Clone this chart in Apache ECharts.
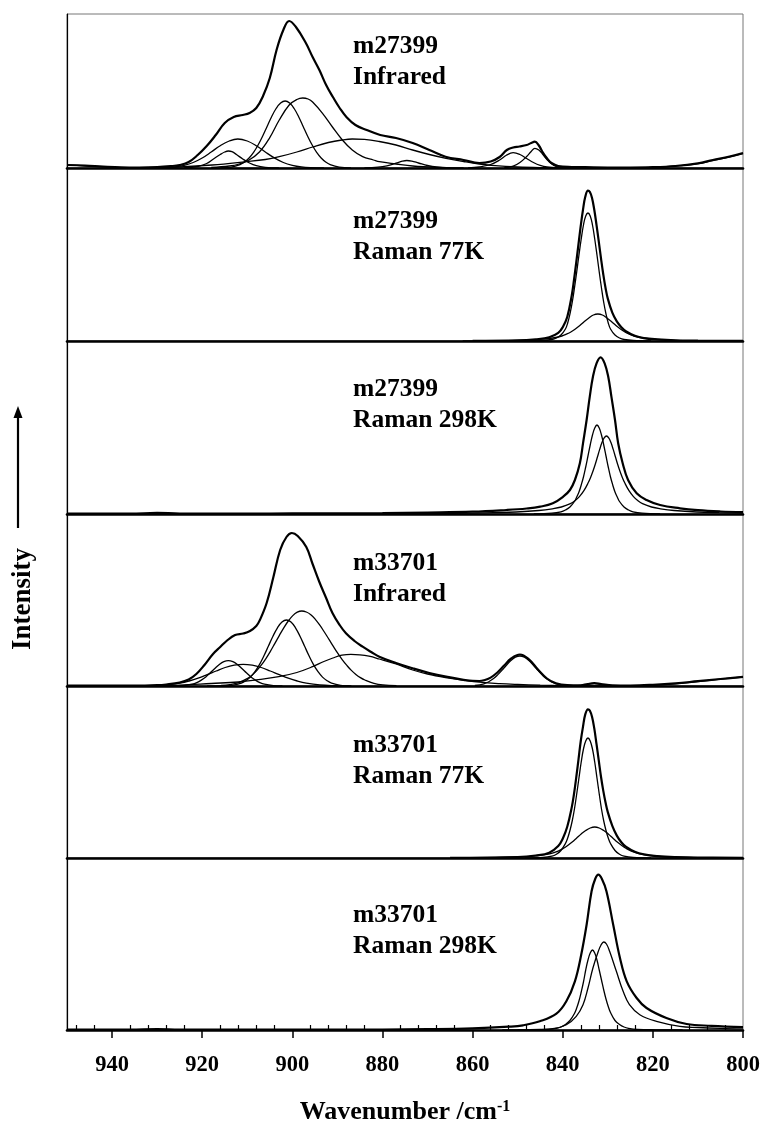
<!DOCTYPE html>
<html>
<head>
<meta charset="utf-8">
<script src="https://cdn.jsdelivr.net/npm/echarts@6/dist/echarts.min.js"></script>
<style>
  html, body { margin: 0; padding: 0; background: #fff; }
  #chart { width: 766px; height: 1128px; }
</style>
</head>
<body>
<div id="chart"></div>
<script>
// values: [wavenumber, intensity] (intensity in px above each panel baseline)

// m27399 Infrared
const ir1Env = [[950,3],[946,2.4],[942,1.4],[938,0.6],[934,0.4],[930,0.8],[927,1.8],[925,3],[923,6],[921,13],[919,22],[917,33],[915,45],[913,51],[911,53],[909.5,55],[908,60],[906.5,72],[905,90],[903.5,118],[902,138],[900.7,147],[899.2,141],[897,125],[895.5,111],[894,98],[892.5,83],[891,71],[889.5,60],[888,51],[886,43],[883.5,38],[880.5,33],[877,30],[873.3,25],[869.6,18],[866,11.3],[862,8],[858.5,5],[856,6.5],[854,11],[852.4,18],[851,20.5],[849.6,21.5],[848,23],[847,25],[846.2,26.3],[845.3,22.5],[844.4,15.5],[843.5,9.7],[842.5,5],[841,2],[838,1],[835,0.8],[830,0.5],[825,0.5],[820,0.8],[815,2],[810,4.7],[806.7,8],[803,11.5],[800,15]];
const ir1C1 = [[924,0.2],[921,1.5],[919,4.5],[917.5,9],[916,13.5],[915,16],[914.2,17],[913.4,16.3],[912.4,13.5],[911,9],[909.5,5],[908,2.3],[906,0.7],[903,0.1]];
const ir1C2 = [[930,0.2],[928,0.4],[926,1.2],[924,2.7],[922,5.5],[920,10],[918,16],[916,22.3],[914,27],[912.1,29],[910,27],[908,22.3],[906,16],[904,10.1],[902,5.5],[900,2.7],[898,1.1],[896,0.4],[893,0.1]];
const ir1C3 = [[916,0.1],[913.6,0.9],[911.6,3.4],[910.6,6],[909.6,10],[908.6,15.6],[907.6,23],[906.6,31.8],[905.6,41.6],[904.6,51.3],[903.6,59.5],[902.6,65],[901.6,67],[900.6,65],[899.6,59.5],[898.6,51.3],[897.6,41.6],[896.6,31.8],[895.6,23],[894.6,15.6],[893.6,10],[892.6,6],[891.6,3.4],[889.6,0.9],[887,0.1]];
const ir1C4 = [[918,0.5],[914,2],[911.8,4],[909.6,8],[907.3,16],[905.1,29.7],[902.9,48],[900.7,63],[899,68.5],[897.7,70],[896.5,69],[895.5,66],[893.3,54.7],[891.1,41],[888.9,28],[886.7,18],[884.4,11.3],[882,8],[880.7,6.3],[877,4],[873.3,2],[868,0.7],[862,0.2]];
const ir1C5 = [[930,0.5],[925,1],[917.8,3],[910.3,6.3],[906,8.5],[902.9,11.3],[899,16],[895.5,21],[892,25.5],[889,28],[886.7,29],[884,28.6],[880.7,26.5],[877,23],[873.3,18],[869.6,13.5],[865.9,9.7],[862,6.5],[858.5,4],[855,2.3],[850,1],[845,0.4],[838,0.1]];
const ir1C6 = [[884,0.1],[881,0.8],[879,2.2],[877,4.8],[875.6,6.8],[874.6,7.5],[873.5,6.9],[872,5],[870,2.5],[868,1],[865,0.2]];
const ir1C7 = [[861,0.1],[858.5,1],[856,3.5],[854,8],[852.5,12.8],[851,15.3],[849.5,13.5],[848,9.5],[846.5,5.5],[845,2.6],[843.5,1],[841,0.2]];
const ir1C8 = [[853,0.2],[851,1.8],[849.5,5.5],[848,11.5],[847,16.5],[846.2,19.7],[845.3,18],[844.4,13.5],[843.5,8.5],[842.5,4.2],[841.5,1.6],[840,0.4],[837,0]];
const ir1C9 = [[828,0],[822,0.4],[818,1],[814,2.3],[810,4.3],[806.7,7.5],[803,11],[800,14.5]];
const ir1C10 = [[950,2.8],[946,2.2],[942,1.2],[938,0.4],[934,0]];

// m27399 Raman 77K
const ra1Env = [[860,0.2],[850,0.6],[846,1.7],[843,3.7],[841,8.1],[840,13.8],[839,24],[838,45.6],[837.5,61],[837,78.7],[836.5,97],[836,115.3],[835.5,131.4],[835,144.2],[834.4,150.3],[834,149.2],[833.5,143.1],[833,131.2],[832.5,115.9],[832,99.3],[831.5,82.3],[831,66.5],[830.5,53],[830,42.4],[829,28.4],[828,19.6],[827,13.8],[826,9.8],[824,5.2],[822,2.9],[819,1.6],[815,0.7],[810,0.3],[800,0.1]];
const ra1Big = [[848.4,0.1],[844.4,0.5],[842.4,1.5],[841.4,3],[840.4,6],[839.4,12],[838.9,18],[838.4,27],[837.9,38.5],[837.4,53],[836.9,69],[836.4,86],[835.9,102],[835.4,116],[834.9,125],[834.4,128],[833.9,125],[833.4,116],[832.9,102],[832.4,86],[831.9,69],[831.4,53],[830.9,38.5],[830.4,27],[829.9,18],[829.4,12],[828.4,6],[827.4,3],[826.4,1.5],[824.4,0.5],[820.4,0.1]];
const ra1Small = [[862.2,0.1],[854.2,0.3],[849.2,0.7],[845.2,1.6],[842.2,3],[840.2,5],[839.2,6.8],[838.2,9],[837.2,12],[836.2,15.5],[835.2,19.5],[834.2,23],[833.2,26],[832.2,27],[831.2,26],[830.2,23],[829.2,19.5],[828.2,15.5],[827.2,12],[826.2,9],[825.2,6.8],[824.2,5],[822.2,3],[819.2,1.6],[815.2,0.7],[810.2,0.3],[802.2,0.1]];

// m27399 Raman 298K
const rb1Env = [[950,0.3],[936,0.3],[930,1.2],[925,0.4],[910,0.4],[900,0.6],[880,1],[870,1.5],[860,2.3],[852.5,4],[848,5.5],[845,7.3],[842.2,10.7],[839.9,17.3],[838.4,24],[837.3,34],[836.2,50.7],[835.5,70.7],[834.7,94],[834,117.3],[833.3,137.3],[832.5,150.7],[831.6,156.7],[830.7,150.7],[829.9,137.3],[829.2,117.3],[828.4,94],[827.7,70.7],[826.7,50.7],[825.5,34],[823.6,20.7],[821.4,14],[818.4,9],[814,5.7],[810,3.8],[805,2.5],[800,1.8]];
const rb1A = [[846.4,0.2],[842.4,0.8],[840.4,2.2],[839.4,4],[838.4,7],[837.4,12.5],[836.9,17],[836.4,22],[835.9,29],[835.4,37],[834.9,47],[834.4,58],[833.9,69],[833.4,79],[832.9,86],[832.4,89],[831.9,86],[831.4,79],[830.9,69],[830.4,58],[829.9,47],[829.4,37],[828.9,29],[828.4,22],[827.9,17],[827.4,12.5],[826.4,7],[825.4,4],[824.4,2.2],[822.4,0.8],[818.4,0.2]];
const rb1B = [[950,0.08],[890.3,0.24],[870.3,0.53],[860.3,0.95],[855.3,1.35],[850.3,2],[845.3,3.5],[842.3,5.2],[840.3,7],[838.3,10.3],[837.3,13.2],[836.3,17.4],[835.3,23.3],[834.3,31.7],[833.8,36.8],[833.3,42.7],[832.8,49.5],[832.3,57],[831.8,64.6],[831.3,71.4],[830.8,76.2],[830.3,78],[829.8,76.2],[829.3,71.4],[828.8,64.6],[828.3,57],[827.8,49.5],[827.3,42.7],[826.8,36.8],[826.3,31.7],[825.3,23.3],[824.3,17.4],[823.3,13.2],[822.3,10.3],[820.3,7],[818.3,5.2],[815.3,3.5],[810.3,2],[805.3,1.35],[800,0.93]];

// m33701 Infrared
const ir2Env = [[950,0.3],[935,0.3],[930,0.8],[928,1.5],[925,3.5],[923,6.5],[921.3,12],[919.5,21],[917.6,32],[916,39],[914.6,45],[912.7,51],[910.9,52.5],[909.4,55],[908,60],[907.2,66],[905.7,83],[904.2,109],[902.7,136],[901.3,149],[900.1,153],[898.8,150],[896.9,139],[895.5,122],[894,104],[892.5,88],[891.1,73],[889.5,61],[888.1,52.7],[886.2,45],[884.4,39.3],[882.5,34],[880.7,29.3],[877,23],[873.3,17.7],[869.6,13],[865.9,9.3],[862,6.2],[860,5.1],[858.5,5],[857.5,5.7],[856,8.4],[854.5,13.5],[853,20.4],[851.5,27.4],[849.5,31.5],[847.5,26.7],[845.5,16.5],[843.5,7.5],[841.5,2.7],[839,0.9],[836,0.7],[834.5,2],[833,2.8],[831.5,2],[829,0.7],[825,0.5],[820,1.2],[815,2.6],[810,4.8],[805,7],[800,9.2]];
const ir2C1 = [[926.2,0.05],[924.2,0.4],[922.2,1.8],[921.2,3.4],[920.2,5.9],[919.2,9.1],[918.2,13.2],[917.2,17.5],[916.2,21.5],[915.2,24.3],[914.2,25.3],[913.2,24.3],[912.2,21.5],[911.2,17.5],[910.2,13.2],[909.2,9.1],[908.2,5.9],[907.2,3.4],[906.2,1.8],[904.2,0.4],[902.2,0.05]];
const ir2C2 = [[934.9,0.1],[930.9,0.4],[927.9,1.1],[924.9,2.9],[922.9,5],[920.9,7.8],[918.9,11.3],[916.9,15],[914.9,18.5],[912.9,20.8],[910.9,21.7],[908.9,20.8],[906.9,18.5],[904.9,15],[902.9,11.3],[900.9,7.8],[898.9,5],[896.9,2.9],[893.9,1.1],[890.9,0.4],[886.9,0.1]];
const ir2C3 = [[915.3,0.15],[913.3,0.7],[911.3,2.9],[910.3,5.3],[909.3,8.9],[908.3,14.3],[907.3,21.4],[906.3,30.2],[905.3,40],[904.3,49.8],[903.3,58.2],[902.3,64],[901.3,66],[900.3,64],[899.3,58.2],[898.3,49.8],[897.3,40],[896.3,30.2],[895.3,21.4],[894.3,14.3],[893.3,8.9],[892.3,5.3],[891.3,2.9],[889.3,0.7],[887.3,0.15]];
const ir2C4 = [[918.9,0.1],[915.9,0.45],[913.9,1.3],[911.9,3.4],[909.9,7.7],[908.9,11],[907.9,15.4],[906.9,20.8],[905.9,27.2],[904.9,34.4],[903.9,42.4],[902.9,50.4],[901.9,58.2],[900.9,65],[899.9,70.4],[898.9,73.8],[897.9,75],[896.9,74],[895.9,71.3],[894.9,66.7],[893.9,60.8],[892.9,54],[891.9,46.9],[890.9,39.6],[889.9,32.6],[888.9,26.2],[887.9,20.6],[886.9,15.6],[885.9,11.6],[884.9,8.4],[883.9,6],[881.9,2.7],[879.9,1.1],[876.9,0.3]];
const ir2C5 = [[930,0.3],[925,0.8],[918,2.5],[912,4],[908,6],[903,9.3],[899,13.5],[895.5,19.3],[893,24.5],[891,28],[889,30.8],[887,31.7],[885,31.2],[883,29.8],[880.7,27],[877,22],[873.3,16],[870,12],[866,8.5],[862,5.8],[858.5,3.8],[854,2.3],[850,1.5],[845,0.8],[840,0.4],[830,0.1]];
const ir2C6 = [[859.5,0.5],[857.5,2.2],[856.5,4],[855.5,6.9],[854.5,10.9],[853.5,15.6],[852.5,20.8],[851.5,25.5],[850.5,28.8],[849.5,30],[848.5,28.8],[847.5,25.5],[846.5,20.8],[845.5,15.6],[844.5,10.9],[843.5,6.9],[842.5,4],[841.5,2.2],[839.5,0.5]];
const ir2C7 = [[838,0],[835.5,0.8],[834,2],[833,2.5],[832,2],[830.5,0.8],[828,0]];
const ir2C8 = [[825,0],[820,0.7],[815,2.2],[810,4.5],[805,6.8],[800,9]];

// m33701 Raman 77K
const ra2Env = [[865,0.2],[850,1],[846,2.5],[843,5.3],[841,12],[840,19.3],[839,31.2],[838,50.6],[837.5,64],[837,80.6],[836.5,98.6],[836,117],[835.5,131.4],[835,143.6],[834.4,148.7],[834,147.4],[833.5,141.2],[833,129.6],[832.5,113.8],[832,97.3],[831.5,81],[831,67.1],[830.5,55.5],[830,45.9],[829,32.1],[828,22.4],[827,15.7],[826,11.3],[824,6.2],[822,3.6],[819,1.9],[815,0.9],[810,0.4],[800,0.15]];
const ra2Big = [[848.4,0.1],[844.4,0.5],[842.4,1.8],[841.4,3.8],[840.4,7.5],[839.4,14.5],[838.9,20],[838.4,27.5],[837.9,37],[837.4,49],[836.9,64],[836.4,80],[835.9,96],[835.4,109],[834.9,117],[834.4,120],[833.9,117],[833.4,109],[832.9,96],[832.4,80],[831.9,64],[831.4,49],[830.9,37],[830.4,27.5],[829.9,20],[829.4,14.5],[828.4,7.5],[827.4,3.8],[826.4,1.8],[824.4,0.5],[820.4,0.1]];
const ra2Small = [[862.9,0.15],[854.9,0.4],[849.9,1],[845.9,2.2],[842.9,4.2],[840.9,7.2],[839.9,9.5],[838.9,12.5],[837.9,16],[836.9,20],[835.9,24],[834.9,27.5],[833.9,30],[832.9,31],[831.9,30],[830.9,27.5],[829.9,24],[828.9,20],[827.9,16],[826.9,12.5],[825.9,9.5],[824.9,7.2],[822.9,4.2],[819.9,2.2],[815.9,1],[810.9,0.4],[802.9,0.15]];

// m33701 Raman 298K
const rb2Env = [[950,0.3],[936,0.3],[930,1],[925,0.4],[900,0.3],[880,0.5],[870,0.8],[860,1.6],[852,3.3],[848.8,4.7],[845.1,8.7],[841.4,16.3],[839.2,28.7],[837.3,48.7],[835.9,75.3],[834.7,105.3],[833.6,138.7],[832.8,151],[832.1,155.3],[831.3,151],[830.3,138.7],[828.8,105.3],[827.3,72],[825.8,48.7],[823.6,32],[821.4,22],[817,12],[812.5,6],[807,4.2],[800,3]];
const rb2A = [[853.4,0.05],[847.4,0.2],[843.4,0.6],[841.4,1.7],[840.4,3],[839.4,5.5],[838.4,9.5],[837.4,16.5],[836.9,22],[836.4,29],[835.9,38],[835.4,48],[834.9,60],[834.4,70],[833.9,77],[833.4,80],[832.9,77],[832.4,70],[831.9,60],[831.4,50],[830.9,40],[830.4,31],[829.9,23.5],[829.4,17.5],[828.4,9.5],[827.4,5.5],[826.4,3],[825.4,1.7],[823.4,0.6],[819.4,0.2],[813.4,0.05]];
const rb2B = [[850,0.3],[845,0.6],[842.2,1.3],[839.2,5.3],[837,13.7],[835.5,25.3],[834.4,42],[833.3,62],[832.1,78.7],[831.5,85],[830.9,88],[830.3,86],[829.6,78.7],[828.1,58.7],[826.6,38.7],[825.2,25.3],[822.9,15.3],[819.2,8.7],[814,3.7],[810,2.5],[805,1.6],[800,1.1]];

// axis ticks
const majorTicks = [940, 920, 900, 880, 860, 840, 820, 800];
const minorTicks = [948, 944, 936, 932, 928, 924, 916, 912, 908, 904, 896, 892, 888, 884, 876, 872, 868, 864, 856, 852, 848, 844, 836, 832, 828, 824, 816, 812, 808, 804];

const panels = [
  { env: ir1Env, comps: [ir1C1, ir1C2, ir1C3, ir1C4, ir1C5, ir1C6, ir1C7, ir1C8, ir1C9, ir1C10], label: ['m27399', 'Infrared'] },
  { env: ra1Env, comps: [ra1Big, ra1Small], label: ['m27399', 'Raman 77K'] },
  { env: rb1Env, comps: [rb1A, rb1B], label: ['m27399', 'Raman 298K'] },
  { env: ir2Env, comps: [ir2C1, ir2C2, ir2C3, ir2C4, ir2C5, ir2C6, ir2C7, ir2C8], label: ['m33701', 'Infrared'] },
  { env: ra2Env, comps: [ra2Big, ra2Small], label: ['m33701', 'Raman 77K'] },
  { env: rb2Env, comps: [rb2A, rb2B], label: ['m33701', 'Raman 298K'] }
];

const SERIF = '"Liberation Serif", "Times New Roman", serif';
const tops = [14, 168, 341, 514, 686, 858];
const bottoms = [168, 341, 514, 686, 858, 1030];
const labelBase = [55, 229.7, 398.3, 572.3, 754.3, 923.7]; // baseline of first text line

const grid = [], xAxis = [], yAxis = [], series = [], graphic = [];

panels.forEach(function (p, i) {
  const h = bottoms[i] - tops[i];
  const last = i === panels.length - 1;
  grid.push({ left: 67, right: 23, top: tops[i], height: h, show: true, borderColor: '#777', borderWidth: 1, outerBoundsMode: 'none' });
  xAxis.push({
    type: 'value', gridIndex: i, min: 800, max: 950, inverse: true, position: 'bottom',
    axisLine: { show: true, onZero: false, lineStyle: { color: '#000', width: 2.6 } },
    axisTick: last ? { show: true, customValues: majorTicks, length: 8, lineStyle: { color: '#000', width: 1.5 } } : { show: false },
    axisLabel: last ? { show: true, customValues: majorTicks, margin: 24, color: '#000', fontFamily: SERIF, fontSize: 22.5, fontWeight: 'bold' } : { show: false },
    splitLine: { show: false }
  });
  yAxis.push({
    type: 'value', gridIndex: i, min: 0, max: h,
    axisLine: { show: true, onZero: false, lineStyle: { color: '#000', width: 1.2 } },
    axisTick: { show: false }, axisLabel: { show: false }, splitLine: { show: false }
  });
  series.push({
    type: 'line', xAxisIndex: i, yAxisIndex: i, data: p.env, smooth: 0.4,
    showSymbol: false, silent: true, z: 4, lineStyle: { color: '#000', width: 2.2 }
  });
  p.comps.forEach(function (c) {
    series.push({
      type: 'line', xAxisIndex: i, yAxisIndex: i, data: c, smooth: 0.4,
      showSymbol: false, silent: true, z: 3, lineStyle: { color: '#000', width: 1.3 }
    });
  });
  p.label.forEach(function (t, k) {
    graphic.push({
      type: 'text', x: 353, y: labelBase[i] + 31 * k - 8.6,
      style: { text: t, font: 'bold 25.5px ' + SERIF, fill: '#000', align: 'left', textAlign: 'left', verticalAlign: 'middle', textVerticalAlign: 'middle' }
    });
  });
});

// minor ticks (inside) on the bottom panel
xAxis.push({
  type: 'value', gridIndex: 5, min: 800, max: 950, inverse: true, position: 'bottom',
  axisLine: { show: false, onZero: false },
  axisTick: { show: true, inside: true, customValues: minorTicks, length: 5, lineStyle: { color: '#000', width: 1.2 } },
  axisLabel: { show: false }, splitLine: { show: false }
});

// y title with arrow
graphic.push({
  type: 'text', x: 23, y: 599, rotation: Math.PI / 2,
  style: { text: 'Intensity', font: 'bold 27px ' + SERIF, fill: '#000', align: 'center', textAlign: 'center', verticalAlign: 'middle', textVerticalAlign: 'middle' }
});
graphic.push({ type: 'line', shape: { x1: 18, y1: 528, x2: 18, y2: 414 }, style: { stroke: '#000', lineWidth: 2.2 } });
graphic.push({ type: 'polygon', shape: { points: [[18, 406], [13.5, 418], [22.5, 418]] }, style: { fill: '#000' } });

// x title
graphic.push({
  type: 'text', x: 405, y: 1112,
  style: {
    text: '{a|Wavenumber /cm}{b|-1}', fill: '#000', align: 'center', textAlign: 'center', verticalAlign: 'middle', textVerticalAlign: 'middle',
    rich: {
      a: { font: 'bold 26px ' + SERIF, fill: '#000', color: '#000' },
      b: { font: 'bold 16px ' + SERIF, fill: '#000', color: '#000', verticalAlign: 'top' }
    }
  }
});

const chart = echarts.init(document.getElementById('chart'), null, { renderer: 'canvas' });
chart.setOption({
  animation: false,
  backgroundColor: '#fff',
  grid: grid,
  xAxis: xAxis,
  yAxis: yAxis,
  series: series,
  graphic: { elements: graphic }
});
</script>
</body>
</html>
